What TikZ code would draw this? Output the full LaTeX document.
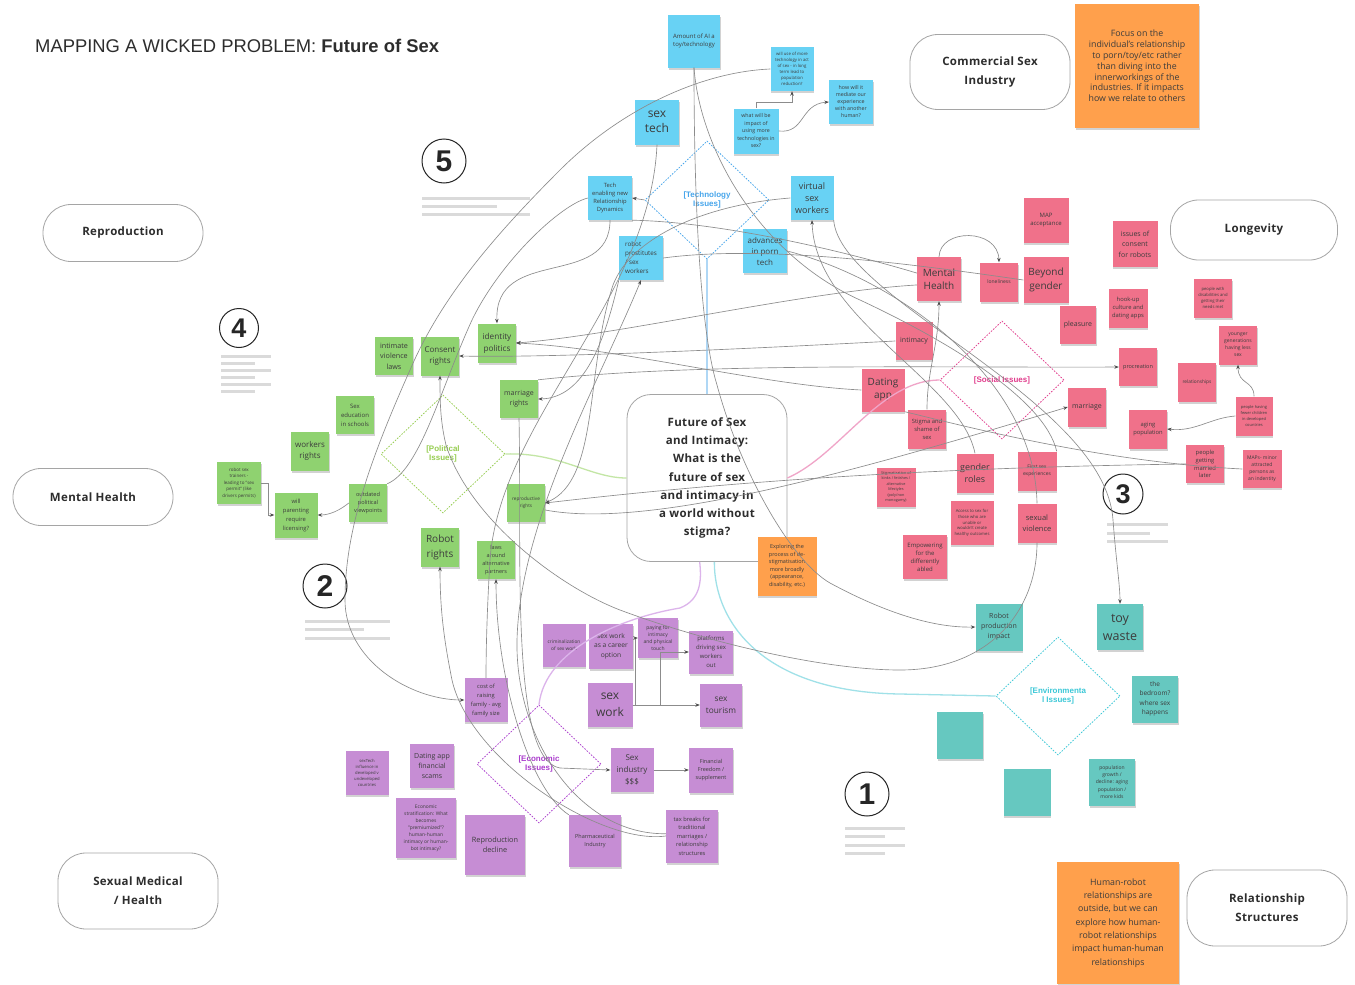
\documentclass[tikz,border=0pt]{standalone}
\usepackage{fontspec}
\setmainfont{Open Sans}
\newfontfamily\arialf{Liberation Sans}
\newfontfamily\boxf{Open Sans}[LetterSpace=3]
\usetikzlibrary{shapes.geometric,arrows.meta,shadows}
\definecolor{cblue}{RGB}{104,210,244}
\definecolor{cpink}{RGB}{240,113,138}
\definecolor{cgreen}{RGB}{143,210,112}
\definecolor{cpurple}{RGB}{198,141,212}
\definecolor{cteal}{RGB}{102,200,192}
\definecolor{corange}{RGB}{255,160,76}
\definecolor{notetext}{RGB}{60,60,60}
\definecolor{textdark}{RGB}{45,45,45}
\definecolor{boxgray}{RGB}{165,165,165}
\definecolor{lineg}{RGB}{140,140,140}
\definecolor{techc}{RGB}{70,165,235}
\definecolor{socialc}{RGB}{225,60,140}
\definecolor{polc}{RGB}{150,205,80}
\definecolor{econc}{RGB}{170,60,205}
\definecolor{envc}{RGB}{60,200,215}
\definecolor{blueln}{RGB}{175,215,245}
\definecolor{pinkln}{RGB}{240,165,200}
\definecolor{greenln}{RGB}{195,230,165}
\definecolor{purpleln}{RGB}{220,180,235}
\definecolor{cyanln}{RGB}{160,225,232}
\definecolor{barc}{RGB}{218,218,218}
\begin{document}
\begin{tikzpicture}[x=1pt,y=-1pt,
  note/.style={rectangle, inner sep=1pt, align=center, text=notetext,
    drop shadow={shadow xshift=0.6pt,shadow yshift=-2.2pt,opacity=0.25,fill=black!70}},
  nblue/.style={note, fill=cblue},
  npink/.style={note, fill=cpink},
  ngreen/.style={note, fill=cgreen},
  npurple/.style={note, fill=cpurple},
  nteal/.style={note, fill=cteal},
  norange/.style={note, fill=corange},
  sz/.style 2 args={minimum width=#1pt, minimum height=#2pt},
  fsz/.style 2 args={font=\fontsize{#1}{#2}\selectfont},
  rbox/.style={draw=boxgray, line width=0.8pt, rounded corners=28pt, fill=white, align=center,
    text=textdark, font=\boxf\bfseries\fontsize{11.5}{19}\selectfont},
  numc/.style={circle, draw=black!85, line width=1pt, fill=white, inner sep=0pt, text=black!85,
    font=\arialf\bfseries\fontsize{30}{30}\selectfont},
  dia/.style={diamond, dash pattern=on 1.6pt off 1.4pt, line width=0.75pt, minimum width=124pt,
    minimum height=118pt, inner sep=0pt, align=center, font=\arialf\bfseries\fontsize{8}{9}\selectfont},
  bar/.style={draw=barc, line width=3pt},
  conn/.style={draw=lineg, line width=0.65pt},
  arr/.style={conn, -{Stealth[length=4.5pt,width=3.5pt,color=black!70]}},
  colln/.style={line width=1.3pt}
]
\useasboundingbox (0,0) rectangle (1355,985);
\fill[white] (0,0) rectangle (1355,985);

% title
\node[anchor=base west, inner sep=0pt, text=textdark, font=\arialf\fontsize{18.4}{20}\selectfont] (title) at (35,52) {MAPPING A WICKED PROBLEM: \textbf{Future of Sex}};

% rounded category boxes
\node[rbox, sz={160}{75}] (commercial) at (990,72) {Commercial Sex\\Industry};
\node[rbox, sz={160}{57}] (reproduction) at (123,233) {Reproduction};
\node[rbox, sz={167}{60}] (longevity) at (1254,230) {Longevity};
\node[rbox, sz={160}{57}] (mentalbox) at (93,497) {Mental Health};
\node[rbox, sz={160}{76}] (sexmed) at (138,891) {Sexual Medical\\/ Health};
\node[rbox, sz={160}{76}] (relstruct) at (1267,908) {Relationship\\Structures};

% numbered markers and bars
\foreach \yy/\xe in {198/530,206/497,214/530} \draw[bar] (422,\yy) -- (\xe,\yy);
\foreach \yy/\xe in {356/271,363/255,370/271,377/255,384/271,391/255} \draw[bar] (221,\yy) -- (\xe,\yy);
\foreach \yy/\xe in {621/390,629/364,638/390} \draw[bar] (305,\yy) -- (\xe,\yy);
\foreach \yy/\xe in {524/1168,533/1150,541/1168} \draw[bar] (1107,\yy) -- (\xe,\yy);
\foreach \yy/\xe in {828/905,836/885,845/905,853/885} \draw[bar] (845,\yy) -- (\xe,\yy);
\node[numc, minimum size=44pt] (n5) at (444,161) {5};
\node[numc, minimum size=39pt, font=\arialf\bfseries\fontsize{27}{27}\selectfont] (n4) at (239,328) {4};
\node[numc, minimum size=44pt] (n2) at (325,586) {2};
\node[numc, minimum size=40pt, font=\arialf\bfseries\fontsize{27}{27}\selectfont] (n3) at (1123,494) {3};
\node[numc, minimum size=44pt] (n1) at (867,794) {1};

% central question
\node[draw=boxgray, line width=0.8pt, rounded corners=24pt, fill=white, sz={160}{167}, align=center,
  text=textdark, font=\boxf\bfseries\fontsize{11.5}{18.2}\selectfont] (center) at (707,478)
  {Future of Sex\\and Intimacy:\\What is the\\future of sex\\and intimacy in\\a world without\\stigma?};

% issue diamonds
\node[dia, draw=techc, text=techc] (techd) at (707,200) {[Technology\\Issues]};
\node[dia, draw=socialc, text=socialc] (sociald) at (1002,380) {[Social Issues]};
\node[dia, draw=polc, text=polc] (pold) at (443,454) {[Political\\Issues]};
\node[dia, draw=econc, text=econc] (econd) at (539,764) {[Economic\\Issues]};
\node[dia, draw=envc, text=envc] (envd) at (1058,696) {[Environmenta\\l Issues]};

% orange notes
\node[norange, sz={124}{124}, fsz={8.8}{10.8}] (focus) at (1137,66) {Focus on the\\individual's relationship\\to porn/toy/etc rather\\than diving into the\\innerworkings of the\\industries. If it impacts\\how we relate to others};
\node[norange, sz={59}{59}, fsz={5.5}{7.5}] (explore) at (787,566) {Exploring the\\process of de-\\stigmatisation\\more broadly\\(appearance,\\disability, etc.)};
\node[norange, sz={122}{122}, fsz={8.8}{13.3}] (humanrobot) at (1118,923) {Human-robot\\relationships are\\outside, but we can\\explore how human-\\robot relationships\\impact human-human\\relationships};

% technology notes
\node[nblue, sz={52}{53}, fsz={6}{8.5}] (ai) at (694,41) {Amount of AI a\\toy/technology};
\node[nblue, sz={43}{44}, fsz={4.3}{6}] (willuse) at (792,69) {will use of more\\technology in act\\of sex - in long\\term lead to\\population\\reduction?};
\node[nblue, sz={44}{44}, fsz={5.3}{7}] (howwill) at (851,102) {how will it\\mediate our\\experience\\with another\\human?};
\node[nblue, sz={45}{45}, fsz={5.3}{7.5}] (whatwill) at (756,131) {what will be\\impact of\\using more\\technologies in\\sex?};
\node[nblue, sz={44}{45}, fsz={12}{15}] (sextech) at (657,122) {sex\\tech};
\node[nblue, sz={44}{44}, fsz={5.8}{7.8}] (techen) at (610,198) {Tech\\enabling new\\Relationship\\Dynamics};
\node[nblue, sz={44}{44}, fsz={6.3}{9}, align=left] (robotpro) at (641,258) {robot\\prostitutes\\/ sex\\workers};
\node[nblue, sz={43}{44}, fsz={9}{12}] (virtual) at (812,198) {virtual\\sex\\workers};
\node[nblue, sz={44}{44}, fsz={8}{11}] (advances) at (765,251) {advances\\in porn\\tech};

% social notes
\node[npink, sz={45}{45}, fsz={6}{8}] (map) at (1046,220) {MAP\\acceptance};
\node[npink, sz={44}{44}, fsz={10}{13.5}] (mental) at (939,279) {Mental\\Health};
\node[npink, sz={38}{39}, fsz={5}{6}] (lonely) at (999,282) {loneliness};
\node[npink, sz={45}{46}, fsz={10}{14}] (beyond) at (1046,280) {Beyond\\gender};
\node[npink, sz={36}{38}, fsz={7}{9}] (pleasure) at (1078,325) {pleasure};
\node[npink, sz={37}{38}, fsz={7}{9}] (intimacy) at (914,341) {intimacy};
\node[npink, sz={43}{43}, fsz={10}{13}] (dating) at (883,390) {Dating\\app};
\node[npink, sz={38}{39}, fsz={5.8}{8}] (stigma) at (927,429) {Stigma and\\shame of\\sex};
\node[npink, sz={37}{39}, fsz={9}{12}] (gender) at (975,473) {gender\\roles};
\node[npink, sz={39}{39}, fsz={5}{7}] (firstsex) at (1037,471) {First sex\\experiences};
\node[npink, sz={39}{39}, fsz={3.8}{5.4}] (kinks) at (896,487) {Stigmatization of\\kinks / fetishes /\\alternative\\lifestyles\\(poly/non\\monogamy)};
\node[npink, sz={43}{44}, fsz={4.2}{5.8}] (access) at (972,523) {Access to sex for\\those who are\\unable or\\wouldn't create\\healthy outcomes};
\node[npink, sz={39}{39}, fsz={7.5}{10.5}] (sexviol) at (1037,523) {sexual\\violence};
\node[npink, sz={44}{44}, fsz={6}{8}] (empower) at (925,557) {Empowering\\for the\\differently\\abled};
\node[npink, sz={45}{46}, fsz={7}{10.5}] (consentrob) at (1135,244) {issues of\\consent\\for robots};
\node[npink, sz={39}{39}, fsz={5.8}{8}] (hookup) at (1128,308) {hook-up\\culture and\\dating apps};
\node[npink, sz={38}{39}, fsz={4.2}{6}] (disab) at (1213,298) {people with\\disabilities and\\getting their\\needs met};
\node[npink, sz={38}{39}, fsz={5}{7}] (younger) at (1238,345) {younger\\generations\\having less\\sex};
\node[npink, sz={38}{38}, fsz={5.5}{7}] (procre) at (1138,367) {procreation};
\node[npink, sz={38}{39}, fsz={4.8}{6}] (relat) at (1197,382) {relationships};
\node[npink, sz={38}{39}, fsz={7}{9}] (marriage) at (1087,407) {marriage};
\node[npink, sz={37}{39}, fsz={4}{6}] (fewer) at (1254,416) {people having\\fewer children\\in developed\\countries};
\node[npink, sz={38}{39}, fsz={5.8}{8}] (aging) at (1148,429) {aging\\population};
\node[npink, sz={38}{38}, fsz={5.8}{7.8}] (later) at (1205,464) {people\\getting\\married\\later};
\node[npink, sz={39}{38}, fsz={5}{7}] (maps) at (1262,469) {MAPs- minor\\attracted\\persons as\\an indentity};

% political notes
\node[ngreen, sz={38}{38}, fsz={7.2}{10.5}] (intviol) at (394,356) {intimate\\violence\\laws};
\node[ngreen, sz={38}{39}, fsz={8}{11.5}] (consent) at (440,356) {Consent\\rights};
\node[ngreen, sz={38}{39}, fsz={8.2}{12}] (identity) at (497,343) {identity\\politics};
\node[ngreen, sz={38}{38}, fsz={7}{10}] (marrights) at (519,399) {marriage\\rights};
\node[ngreen, sz={38}{38}, fsz={6}{9}] (sexed) at (355,415) {Sex\\education\\in schools};
\node[ngreen, sz={38}{39}, fsz={8}{11}] (workers) at (310,451) {workers\\rights};
\node[ngreen, sz={44}{42}, fsz={4.5}{6.5}] (trainers) at (239,483) {robot sex\\trainers -\\leading to "sex\\permit" (like\\drivers permits)};
\node[ngreen, sz={43}{45}, fsz={5.8}{9}] (parent) at (296,515) {will\\parenting\\require\\licensing?};
\node[ngreen, sz={38}{38}, fsz={5.6}{8}] (outdated) at (368,503) {outdated\\political\\viewpoints};
\node[ngreen, sz={38}{38}, fsz={4.7}{6.5}] (reprorights) at (526,503) {reproductive\\rights};
\node[ngreen, sz={38}{39}, fsz={10}{15}] (robotrights) at (440,547) {Robot\\rights};
\node[ngreen, sz={38}{38}, fsz={5.5}{8}] (laws) at (496,560) {laws\\around\\alternative\\partners};

% economic notes
\node[npurple, sz={43}{43}, fsz={4.8}{7}] (crim) at (564,645) {criminalization\\of sex work};
\node[npurple, sz={44}{45}, fsz={6.7}{9.5}] (career) at (611,646) {sex work\\as a career\\option};
\node[npurple, sz={40}{40}, fsz={5}{7}] (paying) at (658,638) {paying for\\intimacy\\and physical\\touch};
\node[npurple, sz={44}{43}, fsz={6}{9}] (platforms) at (711,652) {platforms\\driving sex\\workers\\out};
\node[npurple, sz={43}{44}, fsz={5.7}{9}] (cost) at (486,700) {cost of\\raising\\family - avg\\family size};
\node[npurple, sz={45}{44}, fsz={12}{16.5}] (sexwork) at (610,705) {sex\\work};
\node[npurple, sz={42}{43}, fsz={8.3}{12}] (tourism) at (721,705) {sex\\tourism};
\node[npurple, sz={43}{44}, fsz={4.2}{6.2}] (sextechinf) at (367,773) {sexTech\\influence in\\developed v\\undeveloped\\countries};
\node[npurple, sz={44}{44}, fsz={7}{10}] (scams) at (432,766) {Dating app\\financial\\scams};
\node[npurple, sz={43}{44}, fsz={8}{12}] (industry) at (632,770) {Sex\\industry\\\$\$\$};
\node[npurple, sz={44}{45}, fsz={5.5}{8}] (freedom) at (711,770) {Financial\\Freedom /\\supplement};
\node[npurple, sz={60}{60}, fsz={4.9}{7}] (strat) at (426,828) {Economic\\stratification: What\\becomes\\"premiumized"?\\human-human\\intimacy or human-\\bot intimacy?};
\node[npurple, sz={60}{60}, fsz={7.3}{10}] (repdecl) at (495,845) {Reproduction\\decline};
\node[npurple, sz={52}{52}, fsz={5.5}{8}] (pharma) at (595,841) {Pharmaceutical\\Industry};
\node[npurple, sz={52}{53}, fsz={5.7}{8.5}] (tax) at (692,836) {tax breaks for\\traditional\\marriages /\\relationship\\structures};

% environmental notes
\node[nteal, sz={47}{47}, fsz={7}{10}] (robprod) at (999,627) {Robot\\production\\impact};
\node[nteal, sz={46}{46}, fsz={12.5}{18}] (toy) at (1120,627) {toy\\waste};
\node[nteal, sz={46}{47}, fsz={6.5}{9.5}] (bedroom) at (1155,699) {the\\bedroom?\\where sex\\happens};
\node[nteal, sz={46}{47}] (blanka) at (960,735) {};
\node[nteal, sz={47}{47}] (blankb) at (1027,792) {};
\node[nteal, sz={46}{47}, fsz={5}{7.3}] (popgrowth) at (1112,782) {population\\growth /\\decline: aging\\population /\\more kids};

% coloured links from the issue diamonds to the question
\draw[colln, draw=blueln] (techd.south) -- (center.north);
\draw[colln, draw=greenln] (pold.east) .. controls (560,452) and (590,478) .. (center.west);
\draw[colln, draw=pinkln] (sociald.west) .. controls (880,380) and (840,455) .. (center.east);
\draw[colln, draw=purpleln] (econd.north) .. controls (545,650) and (620,618) .. (680,608) .. controls (700,600) and (702,582) .. (center.265);
\draw[colln, draw=cyanln] (center.-85) .. controls (714,620) and (760,692) .. (900,694) -- (envd.west);

% grey connectors
\draw[arr] (ai.south) .. controls (694,200) and (700,330) .. (717,385) .. controls (740,470) and (790,560) .. (830,583) .. controls (880,610) and (930,628) .. (robprod.west);
\draw[conn] (ai.south) .. controls (700,150) and (760,255) .. (860,300) .. controls (950,342) and (1045,400) .. (firstsex.north east);
\draw[arr] (whatwill.north) -- ++(0,-6) -| (willuse.south);
\draw[arr] (whatwill.east) .. controls (805,134) and (800,104) .. (howwill.west);
\draw[arr] (techd.west) -- (techen.east);
\draw[arr] (willuse.west) .. controls (700,72) and (620,110) .. (560,170) .. controls (490,240) and (440,300) .. (410,370) .. controls (370,460) and (345,530) .. (345,600) .. controls (345,660) and (410,700) .. (cost.west);
\draw[conn] (techen.west) .. controls (560,205) and (500,262) .. (472,320) .. controls (440,390) and (420,470) .. (outdated.north east);
\draw[arr] (techen.south) .. controls (610,290) and (494,245) .. (identity.north);
\draw[conn] (techen.south east) .. controls (720,222) and (840,250) .. (mental.165);
\draw[arr] (mental.195) .. controls (800,292) and (620,335) .. (identity.east);
\draw[arr] (dating.west) .. controls (760,385) and (620,348) .. (identity.east);
\draw[arr] (intimacy.west) .. controls (760,348) and (560,358) .. (consent.east);
\draw[arr] (marrights.north east) .. controls (700,362) and (950,368) .. (procre.west);
\draw[arr] (robotpro.south west) .. controls (605,340) and (585,398) .. (marrights.east);
\draw[arr] (virtual.west) .. controls (700,205) and (630,240) .. (613,285) .. controls (585,370) and (600,480) .. (reprorights.east);
\draw[arr] (later.west) .. controls (900,468) and (700,485) .. (reprorights.east);
\draw[conn] (dating.south east) .. controls (960,425) and (1100,462) .. (maps.west);
\draw[arr] (reprorights.-20) .. controls (650,530) and (860,470) .. (marriage.west);
\draw[arr] (stigma.north) .. controls (927,370) and (939,345) .. (mental.south);
\draw[arr] (mental.north) .. controls (940,228) and (998,228) .. (lonely.north);
\draw[conn] (robotpro.east) .. controls (760,245) and (900,262) .. (beyond.west);
\draw[conn] (advances.east) .. controls (900,280) and (1035,380) .. (sexviol.north);
\draw[arr] (gender.north) .. controls (960,380) and (815,320) .. (virtual.south);
\draw[arr] (virtual.south east) .. controls (840,300) and (1105,400) .. (1113,520) .. controls (1116,560) and (1120,585) .. (toy.north);
\draw[arr] (sexviol.south) .. controls (1037,610) and (990,670) .. (900,670) .. controls (820,670) and (700,640) .. (620,610) .. controls (560,587) and (470,520) .. (446,445) .. controls (440,420) and (440,400) .. (consent.south);
\draw[arr] (pharma.north west) .. controls (530,790) and (496,680) .. (laws.south);
\draw[arr] (marrights.south) .. controls (522,560) and (510,760) .. (560,768) -- (industry.west);
\draw[arr] (tax.west) .. controls (600,845) and (470,760) .. (452,680) .. controls (444,640) and (440,610) .. (robotrights.south);
\draw[conn] (sextech.south) .. controls (650,300) and (500,420) .. (490,560) .. controls (487,610) and (486,650) .. (cost.north);
\draw[arr] (tax.175) .. controls (580,835) and (515,740) .. (517,640) .. controls (520,520) and (600,380) .. (robotpro.south);
\draw[arr] (sexwork.east) -- ++(3,0) |- (paying.west);
\draw[arr] (sexwork.east) -- ++(28,0) |- (platforms.west);
\draw[arr] (sexwork.east) -- (tourism.west);
\draw[arr] (industry.east) -- (freedom.west);
\draw[arr] (fewer.west) .. controls (1210,418) and (1195,432) .. (aging.east);
\draw[arr] (fewer.north) .. controls (1254,380) and (1238,385) .. (younger.south);
\draw[arr] (trainers.east) -- ++(7,0) |- (parent.west);
\draw[arr] (outdated.west) .. controls (335,514) and (325,515) .. (parent.east);
\end{tikzpicture}
\end{document}
